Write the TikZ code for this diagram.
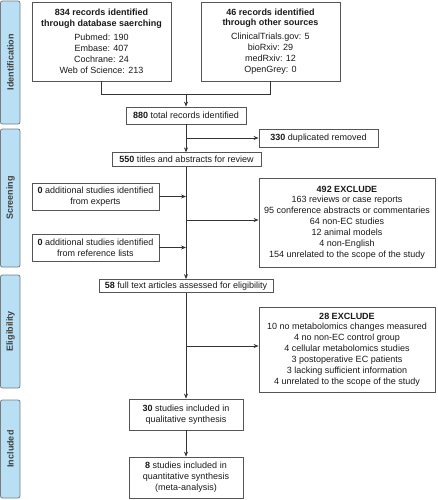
\documentclass[tikz,border=0pt]{standalone}
\usepackage{fontspec}
\setmainfont{Liberation Sans}
\usetikzlibrary{arrows.meta}
\definecolor{barfill}{HTML}{B8DFF3}
\definecolor{barline}{HTML}{6F7F88}
\definecolor{boxline}{HTML}{555555}
\definecolor{conn}{HTML}{333333}
\definecolor{txt}{HTML}{1A1A1A}
\begin{document}
\begin{tikzpicture}[x=1pt,y=-1pt,
  box/.style={draw=boxline,line width=0.8pt,fill=white,inner sep=1pt,align=center,
    font=\fontsize{9}{10.9}\selectfont,text=txt},
  bar/.style={draw=barline,line width=0.8pt,fill=barfill,rounded corners=2pt},
  barlabel/.style={rotate=90,font=\fontsize{9}{10}\selectfont\bfseries,text=black!75},
  link/.style={draw=conn,line width=0.7pt},
  arr/.style={link,-{Stealth[length=5pt,width=4pt]}}]
\useasboundingbox (0,0) rectangle (437,500);
% side bars
\draw[bar] (0.5,1) rectangle (20,124);
\draw[bar] (0.5,129) rectangle (20,267);
\draw[bar] (0.5,275) rectangle (20,388);
\draw[bar] (0.5,400) rectangle (20,498);
\node[barlabel] (lid) at (10.5,62.5) {Identification};
\node[barlabel] (lsc) at (10.5,198) {Screening};
\node[barlabel] (lel) at (10.5,331.5) {Eligibility};
\node[barlabel] (lin) at (10.5,449) {Included};
% boxes
\node[box,minimum width=139pt,minimum height=79pt] (db) at (101.5,41.5)
  {\textbf{834 records identified}\\\textbf{through database saerching}\\[3pt]
   Pubmed: 190\\Embase: 407\\Cochrane: 24\\Web of Science: 213};
\node[box,minimum width=139pt,minimum height=79pt] (other) at (270.5,41.5)
  {\textbf{46 records identified}\\\textbf{through other sources}\\[3pt]
   ClinicalTrials.gov: 5\\bioRxiv: 29\\medRxiv: 12\\OpenGrey: 0};
\node[box,minimum width=120pt,minimum height=17pt] (total) at (186,115.5)
  {\textbf{880} total records identified};
\node[box,minimum width=119pt,minimum height=18pt] (dup) at (318.5,138)
  {\textbf{330} duplicated removed};
\node[box,minimum width=149pt,minimum height=13.5pt] (titles) at (186.5,159.5)
  {\textbf{550} titles and abstracts for review};
\node[box,minimum width=176pt,minimum height=89pt] (exA) at (347,222.5)
  {\textbf{492 EXCLUDE}\\163 reviews or case reports\\95 conference abstracts or commentaries\\
   64 non-EC studies\\12 animal models\\4 non-English\\154 unrelated to the scope of the study};
\node[box,minimum width=127pt,minimum height=27pt] (exp) at (95.5,196.5)
  {\textbf{0} additional studies identified\\from experts};
\node[box,minimum width=127pt,minimum height=27pt] (ref) at (95.5,247.5)
  {\textbf{0} additional studies identified\\from reference lists};
\node[box,minimum width=174pt,minimum height=13pt] (full) at (186,286)
  {\textbf{58} full text articles assessed for eligibility};
\node[box,minimum width=176pt,minimum height=85pt] (exB) at (347,349.5)
  {\textbf{28 EXCLUDE}\\10 no metabolomics changes measured\\4 no non-EC control group\\
   4 cellular metabolomics studies\\3 postoperative EC patients\\3 lacking sufficient information\\
   4 unrelated to the scope of the study};
\node[box,minimum width=114pt,minimum height=31pt] (qual) at (186,414.5)
  {\textbf{30} studies included in\\qualitative synthesis};
\node[box,minimum width=114pt,minimum height=41pt] (quant) at (186,477.5)
  {\textbf{8} studies included in\\quantitative synthesis\\(meta-analysis)};
% connectors
\coordinate (j1) at (186,94);
\draw[link] (db.south) -- (db.south |- j1) -- (other.south |- j1) -- (other.south);
\draw[arr] (j1) -- (total.north);
\draw[arr] (total.south) -- (total.south |- titles.north);
\coordinate (b1) at (186,138);
\draw[arr] (b1) -- (dup.west);
\draw[arr] (titles.south -| total.south) -- (total.south |- full.north);
\draw[arr] (exp.east) -- (exp.east -| total.south);
\draw[arr] (ref.east) -- (ref.east -| total.south);
\coordinate (b2) at (186,220);
\draw[arr] (b2) -- (b2 -| exA.west);
\draw[arr] (full.south -| total.south) -- (total.south |- qual.north);
\coordinate (b3) at (186,346);
\draw[arr] (b3) -- (b3 -| exB.west);
\draw[arr] (qual.south) -- (quant.north);
\end{tikzpicture}
\end{document}
